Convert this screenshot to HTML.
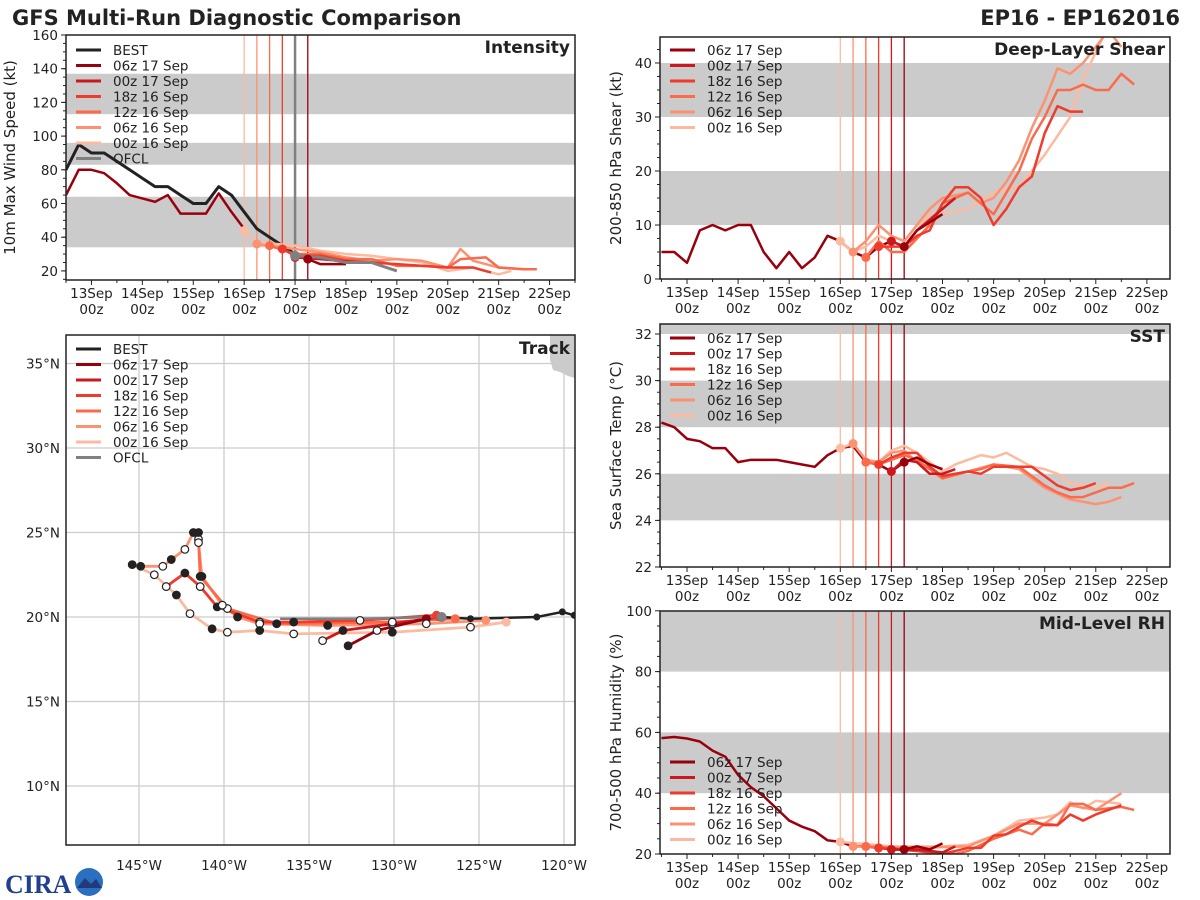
<!DOCTYPE html>
<html><head><meta charset="utf-8"><style>
body{margin:0;background:#fff}
svg{display:block;font-family:"DejaVu Sans","Liberation Sans",sans-serif}
</style></head><body>
<svg id="s" width="1200" height="900" viewBox="0 0 1200 900">
<text x="12" y="25" font-size="21" font-weight="bold" fill="#222">GFS Multi-Run Diagnostic Comparison</text>
<text x="1180" y="25" font-size="21" font-weight="bold" fill="#222" text-anchor="end">EP16 - EP162016</text>
<g>
<text x="5" y="893" font-size="26" font-weight="bold" fill="#1f3f8f" font-family="Liberation Serif">CIRA</text>
<circle cx="89" cy="882" r="14" fill="#2a6fc0"/>
<path d="M77 888 L85 878 L91 884 L96 879 L102 888 Z" fill="#223a7a"/>
</g>
</svg>
<script>
const NS='http://www.w3.org/2000/svg';
const S=document.getElementById('s');
function el(tag,attrs,parent){const e=document.createElementNS(NS,tag);for(const k in attrs)e.setAttribute(k,attrs[k]);(parent||S).appendChild(e);return e;}

// ---------- data ----------
const runNames=['06z 17 Sep','00z 17 Sep','18z 16 Sep','12z 16 Sep','06z 16 Sep','00z 16 Sep'];
const runColors=['#99000d','#cb181d','#ef3b2c','#fb6a4a','#fc9272','#fcbba1'];
const runInit=[17.25,17.0,16.75,16.5,16.25,16.0];
const dayTicks=[13,14,15,16,17,18,19,20,21,22];

const intBest=[[12.5,80],[12.75,95],[13,90],[13.25,90],[13.5,85],[13.75,80],[14,75],[14.25,70],[14.5,70],[14.75,65],[15,60],[15.25,60],[15.5,70],[15.75,65],[16,55],[16.25,45],[16.5,40],[16.75,35],[17,30]];
const intHist=[[12.5,65],[12.75,80],[13,80],[13.25,78],[13.5,72],[13.75,65],[14,63],[14.25,61],[14.5,65],[14.75,54],[15,54],[15.25,54],[15.5,66],[15.75,55],[16,45]];
const intOfcl=[[17,29],[17.5,28],[18,25],[18.5,25],[19,20]];
const int06z17=[[17.25,27],[17.5,24],[18,24]];
const int00z17=[[17,28],[17.5,27],[18.25,25]];
const int18z16=[[16.75,33],[17,29],[17.5,29],[18,26],[19,24],[20,22],[20.5,22],[20.85,19]];
const int12z16=[[16.5,35],[17,30],[17.5,30],[18,27],[18.5,27],[19,23],[19.5,23],[20,22],[20.25,27],[20.75,28],[21,22],[21.5,21],[21.75,21]];
const int06z16=[[16.25,36],[17,33],[17.5,31],[18,28],[18.5,26],[19,27],[19.5,26],[20,22],[20.25,33],[20.5,26],[21,22],[21.5,21]];
const int00z16=[[16,44],[16.25,37],[17,35],[17.5,32],[18,30],[18.5,29],[19,27],[19.5,25],[20,20],[20.5,22],[21,18],[21.25,20]];
const intRuns=[int06z17,int00z17,int18z16,int12z16,int06z16,int00z16];
const intTicks=[20,40,60,80,100,120,140,160];

const shHist=[[12.5,5],[12.75,5],[13,3],[13.25,9],[13.5,10],[13.75,9],[14,10],[14.25,10],[14.5,5],[14.75,2],[15,5],[15.25,2],[15.5,4],[15.75,8],[16,7],[16.25,5],[16.5,4],[16.75,6],[17,7],[17.25,6]];
const sh06z17=[[17.25,6],[17.5,9],[18,12]];
const sh00z17=[[17,7],[17.25,6],[17.5,9],[18.25,15]];
const sh18z16=[[16.75,6],[17,6],[17.25,6],[17.5,8],[17.75,9],[18,14],[18.25,17],[18.5,17],[18.75,15],[19,10],[19.25,13],[19.5,17],[19.75,19],[20,27],[20.25,32],[20.5,31],[20.75,31]];
const sh12z16=[[16.5,4],[16.75,7],[17,5],[17.25,5],[17.75,10],[18,14],[18.5,16],[19,12],[19.5,20],[19.75,26],[20,30],[20.25,35],[20.5,35],[20.75,36],[21,35],[21.25,35],[21.5,38],[21.75,36]];
const sh06z16=[[16.25,5],[16.5,7],[16.75,10],[17,8],[17.25,7],[17.75,13],[18,15],[18.5,16],[18.75,14],[19,15],[19.25,18],[19.5,22],[19.75,28],[20,33],[20.25,39],[20.5,38],[20.75,40],[21,43],[21.25,46],[21.5,43]];
const sh00z16=[[16,7],[16.25,5],[16.5,6],[16.75,8],[17,7],[17.25,6],[17.75,12],[18,12],[18.5,13],[19,16],[19.5,17],[19.75,20],[20,23],[20.5,30],[20.75,37],[21,42],[21.25,47]];
const shRuns=[sh06z17,sh00z17,sh18z16,sh12z16,sh06z16,sh00z16];
const shTicks=[0,10,20,30,40];

const sstHist=[[12.5,28.2],[12.75,28.0],[13,27.5],[13.25,27.4],[13.5,27.1],[13.75,27.1],[14,26.5],[14.25,26.6],[14.5,26.6],[14.75,26.6],[15,26.5],[15.25,26.4],[15.5,26.3],[15.75,26.8],[16,27.1],[16.25,27.2],[16.5,26.5],[16.75,26.4],[17,26.1],[17.25,26.5]];
const sst06z17=[[17.25,26.5],[17.5,26.7],[17.75,26.4],[18,26.2]];
const sst00z17=[[17,26.1],[17.25,26.6],[17.5,26.5],[17.75,26.0],[18,26.0],[18.25,26.2]];
const sst18z16=[[16.75,26.4],[17,26.7],[17.25,26.9],[17.5,26.9],[17.75,26.3],[18,25.9],[18.5,26.1],[18.75,26.0],[19,26.3],[19.5,26.3],[19.75,26.3],[20,25.9],[20.25,25.5],[20.5,25.3],[20.75,25.4],[21,25.6]];
const sst12z16=[[16.5,26.5],[16.75,26.4],[17,26.6],[17.25,26.8],[17.5,26.6],[18,25.8],[18.5,26.1],[18.75,26.2],[19,26.4],[19.5,26.3],[20,25.5],[20.25,25.2],[20.5,25.0],[20.75,25.0],[21,25.2],[21.25,25.4],[21.5,25.4],[21.75,25.6]];
const sst06z16=[[16.25,27.3],[16.5,26.6],[16.75,26.5],[17,26.9],[17.25,27.0],[17.5,26.5],[18,25.9],[18.5,26.1],[19,26.4],[19.5,26.2],[20,25.4],[20.5,24.9],[20.75,24.8],[21,24.7],[21.25,24.8],[21.5,25.0]];
const sst00z16=[[16,27.1],[16.25,27.3],[16.5,26.6],[16.75,26.5],[17,27.0],[17.25,27.2],[17.5,26.9],[18,26.1],[18.25,26.4],[18.5,26.6],[18.75,26.8],[19,26.7],[19.25,26.9],[19.5,26.6],[19.75,26.3],[20,26.2],[20.25,26.0],[20.5,25.6],[20.75,25.5],[21,25.4],[21.25,25.6]];
const sstRuns=[sst06z17,sst00z17,sst18z16,sst12z16,sst06z16,sst00z16];
const sstTicks=[22,24,26,28,30,32];

const rhHist=[[12.5,58.1],[12.75,58.5],[13,58],[13.25,57],[13.5,54],[13.75,52],[14,46],[14.25,42],[14.5,39],[14.75,35],[15,31],[15.25,29],[15.5,27.5],[15.75,24.5],[16,24],[16.25,22.5],[16.5,22.5],[16.75,22],[17,21.5],[17.25,21.5]];
const rh06z17=[[17.25,21.5],[17.5,22.5],[17.75,21.5],[18,23.5]];
const rh00z17=[[17,21.5],[17.5,21.5],[18,20.5],[18.25,22.5]];
const rh18z16=[[16.75,22],[17.5,21],[18,20],[18.5,22],[18.75,22],[19,26],[19.25,26.5],[19.5,29],[19.75,31],[20,29.5],[20.25,29.5],[20.5,33],[20.75,31],[21,33],[21.5,36]];
const rh12z16=[[16.5,22.5],[17.5,21.5],[18.25,20],[18.5,21],[19,25],[19.5,28],[19.75,26.5],[20,30],[20.25,29.5],[20.5,36.5],[20.75,36.5],[21,34.5],[21.5,35.5],[21.75,34.5]];
const rh06z16=[[16.25,22.5],[17.5,22],[18.5,22.5],[19,26],[19.5,30],[20,30],[20.5,36],[21,34.5],[21.5,40]];
const rh00z16=[[16,24],[17,22.5],[18,22.5],[18.5,23],[19,26],[19.5,31],[20,32],[20.25,33],[20.5,37],[20.75,35],[21,37.5],[21.5,36.5]];
const rhRuns=[rh06z17,rh00z17,rh18z16,rh12z16,rh06z16,rh00z16];
const rhTicks=[20,40,60,80,100];

// track: [lonW, latN]
const trBest=[[119.4,20.1],[120.1,20.3],[121.6,20.0],[125.5,19.9],[127.2,20.0]];
const trOfcl=[[127.2,20.0],[132.0,19.9],[136.7,19.9]];
const tr06z17=[[128.1,19.9],[131.0,19.2],[132.7,18.3]];
const tr00z17=[[127.3,20.0],[130.1,19.6],[133.0,19.2],[134.2,18.6]];
const tr18z16=[[127.5,20.1],[132.0,19.8],[135.9,19.7],[137.9,19.7],[140.4,20.6],[141.4,21.8],[142.3,22.6],[143.4,21.8]];
const tr12z16=[[126.4,19.9],[130.1,19.7],[136.9,19.6],[139.8,20.5],[141.4,22.4],[141.5,24.6],[141.5,25.0]];
const tr06z16=[[124.6,19.8],[128.1,19.6],[133.9,19.5],[137.9,19.6],[139.2,20.0],[140.1,20.7],[141.3,22.4],[141.5,24.4],[141.8,25.0],[142.3,24.0],[143.1,23.4],[143.6,23.0],[144.9,23.0]];
const tr00z16=[[123.4,19.7],[125.5,19.4],[130.1,19.1],[135.9,19.0],[137.9,19.2],[139.8,19.1],[140.7,19.3],[142.0,20.2],[142.8,21.3],[144.1,22.5],[145.4,23.1]];
const trRuns=[tr06z17,tr00z17,tr18z16,tr12z16,tr06z16,tr00z16];
const lonTicks=[145,140,135,130,125,120];
const latTicks=[10,15,20,25,30,35];

// ---------- helpers ----------
function panel(o){
  const g=el('g',{});
  const X=t=>o.x0+(t-o.t0)*o.dx;
  const Y=v=>o.yb-(v-o.vb)*o.dy;
  const clipId=o.name+'-clip';
  const cp=el('clipPath',{id:clipId},g);el('rect',{x:o.x0,y:o.yt,width:o.x1-o.x0,height:o.yb-o.yt},cp);
  const inner=el('g',{'clip-path':'url(#'+clipId+')'},g);
  o.bands.forEach(b=>{el('rect',{x:o.x0,y:Y(b[1]),width:o.x1-o.x0,height:Y(b[0])-Y(b[1]),fill:'#cbcbcb'},inner);});
  runInit.forEach((t,i)=>{el('line',{x1:X(t),x2:X(t),y1:o.yt,y2:o.yb,stroke:runColors[i],'stroke-width':1.3},inner);});
  if(o.ofclV){el('line',{x1:X(17),x2:X(17),y1:o.yt,y2:o.yb,stroke:'#808080','stroke-width':2.5},inner);}
  const line=(d,c,w,nm)=>{const p=el('polyline',{points:d.map(q=>X(q[0])+','+Y(q[1])).join(' '),fill:'none',stroke:c,'stroke-width':w,'stroke-linejoin':'round'},inner);};
  if(o.best)line(o.best,'#222',3,o.name+'-best-line');
  line(o.hist,runColors[0],2.5,o.name+'-history-line');
  for(let i=o.runs.length-1;i>=0;i--){line(o.runs[i],runColors[i],2.5,o.name+'-run-'+i);}
  if(o.ofcl)line(o.ofcl,'#808080',3,o.name+'-ofcl-line');
  o.runs.forEach((r,i)=>{el('circle',{cx:X(r[0][0]),cy:Y(r[0][1]),r:4.5,fill:runColors[i]},inner);});
  if(o.ofcl)el('circle',{cx:X(o.ofcl[0][0]),cy:Y(o.ofcl[0][1]),r:5,fill:'#808080'},inner);
  el('rect',{x:o.x0,y:o.yt,width:o.x1-o.x0,height:o.yb-o.yt,fill:'none',stroke:'#222','stroke-width':1.5},g);
  for(let t=12.0;t<=23;t+=0.5){const x=X(t);if(x<o.x0-0.5||x>o.x1+0.5)continue;const maj=Number.isInteger(t);el('line',{x1:x,x2:x,y1:o.yb,y2:o.yb+(maj?5:3),stroke:'#222'},g);}
  dayTicks.forEach(d=>{const t1=el('text',{x:X(d),y:o.yb+18,'font-size':13.5,'text-anchor':'middle',fill:'#222'},g);t1.textContent=d+'Sep';const t2=el('text',{x:X(d),y:o.yb+34,'font-size':13.5,'text-anchor':'middle',fill:'#222'},g);t2.textContent='00z';});
  o.yticks.forEach(v=>{const y=Y(v);el('line',{x1:o.x0-5,x2:o.x0,y1:y,y2:y,stroke:'#222'},g);const t=el('text',{x:o.x0-8,y:y+5,'font-size':13.5,'text-anchor':'end',fill:'#222'},g);t.textContent=v;});
  for(let v=o.minor[0];v<=o.minor[1]+1e-6;v+=o.minor[2]){const y=Y(v);if(y<o.yt||y>o.yb)continue;el('line',{x1:o.x0-3,x2:o.x0,y1:y,y2:y,stroke:'#222'},g);}
  const yl=el('text',{x:0,y:0,'font-size':15,'text-anchor':'middle',fill:'#222',transform:`translate(${o.ylx},${(o.yt+o.yb)/2}) rotate(-90)`},g);yl.textContent=o.ylabel;
  const tt=el('text',{x:o.x1-5,y:o.yt+18,'font-size':17,'font-weight':'bold','text-anchor':'end',fill:'#222'},g);tt.textContent=o.title;
  legend(g,o.x0,o.legY,o.best!=null,o.ofcl!=null);
}
function legend(g,x0,y0,best,ofcl){
  const items=[];if(best)items.push(['BEST','#222']);runNames.forEach((n,i)=>items.push([n,runColors[i]]));if(ofcl)items.push(['OFCL','#808080']);
  items.forEach((it,i)=>{const y=y0+i*15.5;const lg=el('g',{},g);el('line',{x1:x0+10,x2:x0+35,y1:y,y2:y,stroke:it[1],'stroke-width':3},lg);const t=el('text',{x:x0+47,y:y+5,'font-size':13.5,fill:'#222'},lg);t.textContent=it[0];});
}
const rt0=13-27/51.1;
panel({name:'intensity-panel',title:'Intensity',x0:66,x1:575,t0:12.5,dx:50.9,yt:35,yb:280,vb:14.6,dy:1.685,bands:[[34,64],[83,96],[113,137]],yticks:intTicks,minor:[15,160,5],best:intBest,hist:intHist,runs:intRuns,ofcl:intOfcl,ofclV:true,ylabel:'10m Max Wind Speed (kt)',ylx:15,legY:50});
panel({name:'shear-panel',title:'Deep-Layer Shear',x0:660,x1:1170,t0:rt0,dx:51.1,yt:37,yb:279,vb:0,dy:5.4,bands:[[10,20],[30,40]],yticks:shTicks,minor:[0,45,2.5],hist:shHist,runs:shRuns,ylabel:'200-850 hPa Shear (kt)',ylx:621,legY:50});
panel({name:'sst-panel',title:'SST',x0:660,x1:1170,t0:rt0,dx:51.1,yt:324,yb:567,vb:22,dy:23.3,bands:[[24,26],[28,30],[32,33]],yticks:sstTicks,minor:[22,32.4,0.5],hist:sstHist,runs:sstRuns,ylabel:'Sea Surface Temp (°C)',ylx:621,legY:338});
panel({name:'rh-panel',title:'Mid-Level RH',x0:660,x1:1170,t0:rt0,dx:51.1,yt:611,yb:854,vb:20,dy:3.04,bands:[[40,60],[80,100]],yticks:rhTicks,minor:[20,100,5],hist:rhHist,runs:rhRuns,ylabel:'700-500 hPa Humidity (%)',ylx:621,legY:762});

// ---------- track ----------
(function(){
  const x0=66,x1=575,yt=335,yb=845;
  const g=el('g',{});
  const X=l=>139+(145-l)*17, Y=a=>617-(a-20)*16.9;
  const cp=el('clipPath',{id:'trclip'},g);el('rect',{x:x0,y:yt,width:x1-x0,height:yb-yt},cp);
  const inner=el('g',{'clip-path':'url(#trclip)'},g);
  lonTicks.forEach(l=>el('line',{x1:X(l),x2:X(l),y1:yt,y2:yb,stroke:'#cccccc','stroke-width':1.3},inner));
  latTicks.forEach(a=>el('line',{x1:x0,x2:x1,y1:Y(a),y2:Y(a),stroke:'#cccccc','stroke-width':1.3},inner));
  const land=el('path',{d:'M550 335 L575 335 L575 378 L568 376 L560 372 L553 370 L550 360 Z',fill:'#cbcbcb'},inner);
  const line=(d,c,w,nm)=>{const p=el('polyline',{points:d.map(q=>X(q[0])+','+Y(q[1])).join(' '),fill:'none',stroke:c,'stroke-width':w,'stroke-linejoin':'round'},inner);};
  for(let i=trRuns.length-1;i>=0;i--)line(trRuns[i],runColors[i],2.8,'track-run-'+i);
  line(trBest,'#222',2.5,'track-best');
  line(trOfcl,'#808080',2.5,'track-ofcl');
  trRuns.forEach((r,i)=>{r.forEach((p,j)=>{if(j===0){el('circle',{cx:X(p[0]),cy:Y(p[1]),r:4.5,fill:runColors[i]},inner);return;}const filled=j%2===0;el('circle',{cx:X(p[0]),cy:Y(p[1]),r:3.8,fill:filled?'#222':'#fff',stroke:'#222','stroke-width':1.2},inner);});});
  trBest.forEach(p=>el('circle',{cx:X(p[0]),cy:Y(p[1]),r:3.5,fill:'#222'},inner));
  el('circle',{cx:X(trOfcl[0][0]),cy:Y(trOfcl[0][1]),r:5,fill:'#808080'},inner);
  el('rect',{x:x0,y:yt,width:x1-x0,height:yb-yt,fill:'none',stroke:'#222','stroke-width':1.5},g);
  lonTicks.forEach(l=>{const t=el('text',{x:X(l),y:yb+25,'font-size':13.5,'text-anchor':'middle',fill:'#222'},g);t.textContent=l+'°W';});
  latTicks.forEach(a=>{const t=el('text',{x:x0-6,y:Y(a)+5,'font-size':13.5,'text-anchor':'end',fill:'#222'},g);t.textContent=a+'°N';});
  const tt=el('text',{x:x1-5,y:yt+19,'font-size':17,'font-weight':'bold','text-anchor':'end',fill:'#222'},g);tt.textContent='Track';
  legend(g,x0,349,true,true);
})();
</script>
</body></html>
